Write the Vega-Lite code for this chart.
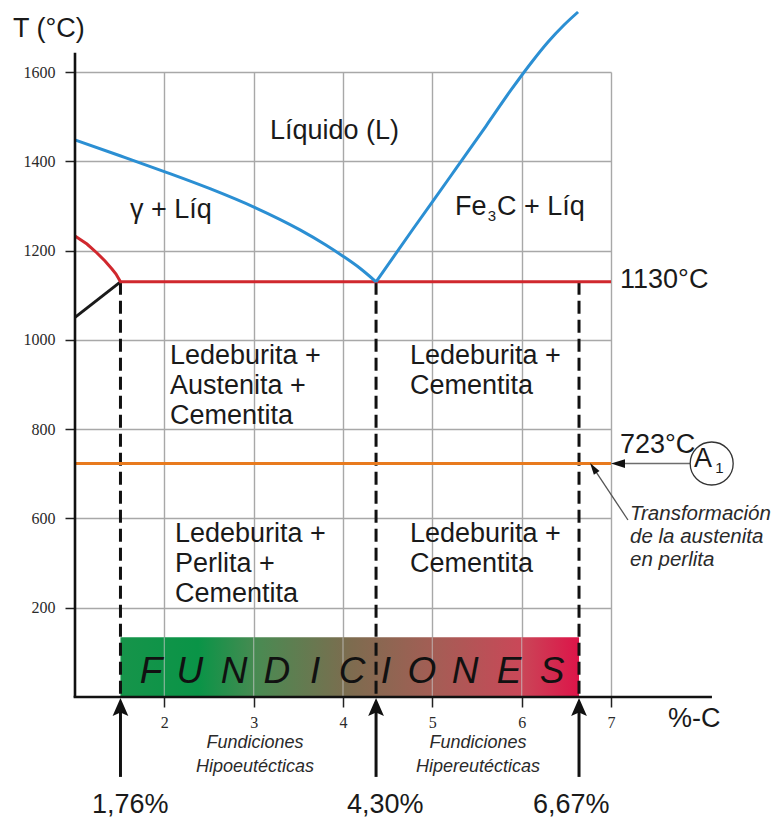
{
  "$schema": "https://vega.github.io/schema/vega-lite/v6.json",
  "width": 536,
  "height": 625,
  "autosize": {"type": "none"},
  "padding": {"left": 75, "top": 72, "right": 166, "bottom": 122},
  "background": "white",
  "config": {"view": {"stroke": null}},
  "datasets": {
    "blue": [
      {"s": "a", "x": 1.0, "T": 1447.7}, {"s": "a", "x": 1.504, "T": 1412.4}, {"s": "a", "x": 2.0075, "T": 1376.4},
      {"s": "a", "x": 2.511, "T": 1338.6}, {"s": "a", "x": 3.015, "T": 1296.3}, {"s": "a", "x": 3.519, "T": 1246.3},
      {"s": "a", "x": 3.799, "T": 1213.6}, {"s": "a", "x": 4.0, "T": 1187.4}, {"s": "a", "x": 4.19, "T": 1160.3},
      {"s": "a", "x": 4.37, "T": 1130},
      {"s": "b", "x": 4.37, "T": 1130}, {"s": "b", "x": 4.784, "T": 1248.3}, {"s": "b", "x": 5.198, "T": 1364.8},
      {"s": "b", "x": 5.601, "T": 1479}, {"s": "b", "x": 5.881, "T": 1559.7}, {"s": "b", "x": 6.105, "T": 1620.2},
      {"s": "b", "x": 6.295, "T": 1667.2}, {"s": "b", "x": 6.474, "T": 1705.3}, {"s": "b", "x": 6.631, "T": 1734.4}
    ],
    "red": [
      {"x": 1.0, "T": 1232.6}, {"x": 1.134, "T": 1214.7}, {"x": 1.246, "T": 1194.6}, {"x": 1.336, "T": 1176.6},
      {"x": 1.414, "T": 1158.7}, {"x": 1.459, "T": 1147.5}, {"x": 1.509, "T": 1130}, {"x": 7.0, "T": 1130}
    ],
    "black": [{"x": 1.0, "T": 1050.5}, {"x": 1.509, "T": 1130}],
    "orange": [{"x": 1.0, "T": 723}, {"x": 7.0, "T": 723}],
    "band": [{"x": 1.509, "x2": 6.642, "T": 200, "T2": 333.7}],
    "gridOver": [
      {"x": 2, "x2": 2, "T": 200, "T2": 333.7}, {"x": 3, "x2": 3, "T": 200, "T2": 333.7},
      {"x": 4, "x2": 4, "T": 200, "T2": 333.7}, {"x": 5, "x2": 5, "T": 200, "T2": 333.7},
      {"x": 6, "x2": 6, "T": 200, "T2": 333.7}
    ],
    "dashed": [
      {"x": 1.509, "x2": 1.509, "T": 1130, "T2": 200},
      {"x": 4.37, "x2": 4.37, "T": 1130, "T2": 200},
      {"x": 6.642, "x2": 6.642, "T": 1130, "T2": 200}
    ],
    "axisLines": [
      {"x": 1.0, "x2": 1.0, "T": 199, "T2": 1643},
      {"x": 0.985, "x2": 8.13, "T": 200, "T2": 200}
    ],
    "shafts": [
      {"x": 1.509, "x2": 1.509, "T": 176, "T2": 21},
      {"x": 4.37, "x2": 4.37, "T": 176, "T2": 21},
      {"x": 6.642, "x2": 6.642, "T": 176, "T2": 21}
    ],
    "heads": [{"x": 1.509, "T": 172.6}, {"x": 4.37, "T": 172.6}, {"x": 6.642, "T": 172.6}],
    "grayLine": [{"x": 7.098, "x2": 7.885, "T": 723, "T2": 723}],
    "leftHead": [{"x": 7.098, "T": 723}],
    "thinArrow": [{"x": 7.19, "x2": 6.812, "T": 596.5, "T2": 710.3}],
    "smallHead": [{"x": 6.812, "T": 710.3}],
    "circle": [{"x": 8.127, "T": 723}],
    "labels": [
      {"x": 3.183, "T": 1450, "label": "Líquido (L)"},
      {"x": 1.616, "T": 1273, "label": "γ + Líq"},
      {"x": 5.254, "T": 1280, "label": "Fe"},
      {"x": 5.724, "T": 1280, "label": "C + Líq"},
      {"x": 2.063, "T": 946, "label": ["Ledeburita +", "Austenita +", "Cementita"]},
      {"x": 4.75, "T": 946, "label": ["Ledeburita +", "Cementita"]},
      {"x": 2.119, "T": 547, "label": ["Ledeburita +", "Perlita +", "Cementita"]},
      {"x": 4.75, "T": 547, "label": ["Ledeburita +", "Cementita"]},
      {"x": 7.101, "T": 1116, "label": "1130°C"},
      {"x": 7.101, "T": 746.6, "label": "723°C"},
      {"x": 7.93, "T": 715.2, "label": "A"},
      {"x": 1.19, "T": -59.8, "label": "1,76%"},
      {"x": 4.045, "T": -59.8, "label": "4,30%"},
      {"x": 6.127, "T": -59.8, "label": "6,67%"},
      {"x": 0.306, "T": 1678.4, "label": "T (°C)"},
      {"x": 7.638, "T": 132.8, "label": "%-C"}
    ],
    "subs": [
      {"x": 5.668, "T": 1266, "label": "3"},
      {"x": 8.215, "T": 701.8, "label": "1"}
    ],
    "note": [{"x": 7.213, "T": 596.5, "label": ["Transformación", "de la austenita", "en perlita"]}],
    "types": [
      {"x": 3.015, "T": 85.8, "label": ["Fundiciones", "Hipoeutécticas"]},
      {"x": 5.511, "T": 85.8, "label": ["Fundiciones", "Hipereutécticas"]}
    ],
    "letters": [
      {"x": 1.851, "T": 231.4, "label": "F"}, {"x": 2.287, "T": 231.4, "label": "U"},
      {"x": 2.78, "T": 231.4, "label": "N"}, {"x": 3.261, "T": 231.4, "label": "D"},
      {"x": 3.687, "T": 231.4, "label": "I"}, {"x": 4.101, "T": 231.4, "label": "C"},
      {"x": 4.481, "T": 231.4, "label": "I"}, {"x": 4.884, "T": 231.4, "label": "O"},
      {"x": 5.366, "T": 231.4, "label": "N"}, {"x": 5.858, "T": 231.4, "label": "E"},
      {"x": 6.34, "T": 231.4, "label": "S"}
    ]
  },
  "encoding": {
    "x": {
      "field": "x", "type": "quantitative",
      "scale": {"domain": [1, 7], "nice": false, "zero": false},
      "axis": {
        "title": null, "values": [2, 3, 4, 5, 6, 7], "format": "d", "domain": false,
        "tickSize": 10, "tickColor": "#222", "tickWidth": 1.5,
        "labelFont": "Liberation Serif", "labelFontSize": 16, "labelColor": "#2a2a2a",
        "labelPadding": 7, "labelFlush": false, "labelOverlap": false,
        "grid": true, "gridColor": "#a8a8a8", "gridWidth": 1.4, "gridOpacity": 1
      }
    },
    "y": {
      "field": "T", "type": "quantitative",
      "scale": {"domain": [200, 1600], "nice": false, "zero": false},
      "axis": {
        "title": null, "values": [400, 600, 800, 1000, 1200, 1400, 1600],
        "labelExpr": "datum.value == 400 ? '200' : format(datum.value, 'd')", "domain": false,
        "tickSize": 10, "tickColor": "#222", "tickWidth": 1.5,
        "labelFont": "Liberation Serif", "labelFontSize": 16, "labelColor": "#2a2a2a",
        "labelPadding": 10, "labelFlush": false, "labelOverlap": false,
        "grid": true, "gridColor": "#a8a8a8", "gridWidth": 1.4, "gridOpacity": 1
      }
    }
  },
  "layer": [
    {
      "data": {"name": "band"},
      "mark": {
        "type": "rect",
        "color": {
          "gradient": "linear", "x1": 0, "x2": 1, "y1": 0, "y2": 0,
          "stops": [
            {"offset": 0, "color": "#16944a"},
            {"offset": 0.17, "color": "#0a9447"},
            {"offset": 0.3, "color": "#4a8a52"},
            {"offset": 0.5, "color": "#7d6c4f"},
            {"offset": 0.68, "color": "#a35e55"},
            {"offset": 0.87, "color": "#c94858"},
            {"offset": 1, "color": "#dd1449"}
          ]
        }
      },
      "encoding": {"x2": {"field": "x2"}, "y2": {"field": "T2"}}
    },
    {
      "data": {"name": "gridOver"},
      "mark": {"type": "rule", "color": "#c8c8c8", "strokeWidth": 1.3, "opacity": 0.6},
      "encoding": {"x2": {"field": "x2"}, "y2": {"field": "T2"}}
    },
    {
      "data": {"name": "letters"},
      "mark": {"type": "text", "font": "Liberation Sans", "fontStyle": "italic", "fontSize": 37, "align": "center", "baseline": "alphabetic", "color": "#111"},
      "encoding": {"text": {"field": "label"}}
    },
    {
      "data": {"name": "dashed"},
      "mark": {"type": "rule", "color": "#111", "strokeWidth": 3, "strokeDash": [13, 6]},
      "encoding": {"x2": {"field": "x2"}, "y2": {"field": "T2"}}
    },
    {
      "data": {"name": "orange"},
      "mark": {"type": "line", "color": "#e87a1e", "strokeWidth": 3},
      "encoding": {}
    },
    {
      "data": {"name": "black"},
      "mark": {"type": "line", "color": "#1a1a1a", "strokeWidth": 3},
      "encoding": {}
    },
    {
      "data": {"name": "red"},
      "mark": {"type": "line", "color": "#d0282e", "strokeWidth": 3},
      "encoding": {}
    },
    {
      "data": {"name": "blue"},
      "mark": {"type": "line", "color": "#2b8fd3", "strokeWidth": 3, "interpolate": "monotone"},
      "encoding": {"detail": {"field": "s"}}
    },
    {
      "data": {"name": "axisLines"},
      "mark": {"type": "rule", "color": "#111", "strokeWidth": 2.6},
      "encoding": {"x2": {"field": "x2"}, "y2": {"field": "T2"}}
    },
    {
      "data": {"name": "shafts"},
      "mark": {"type": "rule", "color": "#111", "strokeWidth": 3},
      "encoding": {"x2": {"field": "x2"}, "y2": {"field": "T2"}}
    },
    {
      "data": {"name": "heads"},
      "mark": {"type": "point", "shape": "M0,-1L0.7,0.6L0,0.3L-0.7,0.6Z", "size": 506, "filled": true, "color": "#111", "opacity": 1},
      "encoding": {}
    },
    {
      "data": {"name": "grayLine"},
      "mark": {"type": "rule", "color": "#6d6d6d", "strokeWidth": 1.5},
      "encoding": {"x2": {"field": "x2"}, "y2": {"field": "T2"}}
    },
    {
      "data": {"name": "leftHead"},
      "mark": {"type": "point", "shape": "M-1,0L0.6,-0.5L0.6,0.5Z", "size": 306, "filled": true, "color": "#111", "opacity": 1},
      "encoding": {}
    },
    {
      "data": {"name": "thinArrow"},
      "mark": {"type": "rule", "color": "#555", "strokeWidth": 1.3},
      "encoding": {"x2": {"field": "x2"}, "y2": {"field": "T2"}}
    },
    {
      "data": {"name": "smallHead"},
      "mark": {"type": "point", "shape": "M0,-1L0.45,0.6L-0.45,0.6Z", "size": 225, "angle": -33.7, "filled": true, "color": "#111", "opacity": 1},
      "encoding": {}
    },
    {
      "data": {"name": "circle"},
      "mark": {"type": "point", "shape": "circle", "size": 1849, "filled": true, "fill": "white", "stroke": "#333", "strokeWidth": 1.3, "opacity": 1},
      "encoding": {}
    },
    {
      "data": {"name": "labels"},
      "mark": {"type": "text", "font": "Liberation Sans", "fontSize": 27, "lineHeight": 30, "align": "left", "baseline": "alphabetic", "color": "#1a1a1a"},
      "encoding": {"text": {"field": "label"}}
    },
    {
      "data": {"name": "subs"},
      "mark": {"type": "text", "font": "Liberation Sans", "fontSize": 15, "align": "center", "baseline": "alphabetic", "color": "#1a1a1a"},
      "encoding": {"text": {"field": "label"}}
    },
    {
      "data": {"name": "note"},
      "mark": {"type": "text", "font": "Liberation Sans", "fontStyle": "italic", "fontSize": 20.5, "lineHeight": 23, "align": "left", "baseline": "alphabetic", "color": "#2a2a2a"},
      "encoding": {"text": {"field": "label"}}
    },
    {
      "data": {"name": "types"},
      "mark": {"type": "text", "font": "Liberation Sans", "fontStyle": "italic", "fontSize": 18, "lineHeight": 24, "align": "center", "baseline": "alphabetic", "color": "#2a2a2a"},
      "encoding": {"text": {"field": "label"}}
    }
  ]
}
